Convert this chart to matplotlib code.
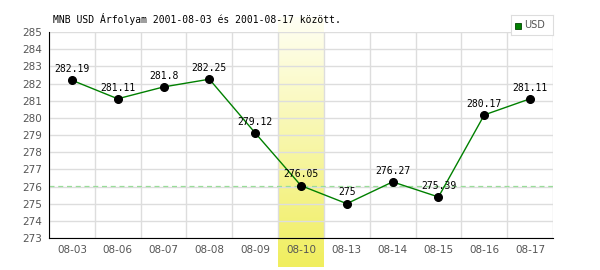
import numpy as np
import matplotlib.pyplot as plt
from matplotlib.colors import LinearSegmentedColormap

# MNB USD árfolyam, 2001-08-03 .. 2001-08-17
datumok = ["08-03", "08-06", "08-07", "08-08", "08-09", "08-10",
           "08-13", "08-14", "08-15", "08-16", "08-17"]
arfolyam = [282.19, 281.11, 281.8, 282.25, 279.12, 276.05,
            275.0, 276.27, 275.39, 280.17, 281.11]
kiemelt = "08-10"
y_ticks = list(range(273, 286))

fig = plt.figure(figsize=(6, 2.7), dpi=100)
ax = fig.add_axes([49 / 600, 32 / 270, 504 / 600, 206 / 270])

x = np.arange(len(datumok))
ax.set_xlim(-0.5, len(datumok) - 0.5)
ax.set_ylim(273, 285)

# rács
ax.set_yticks(y_ticks)
ax.set_xticks(x)
ax.set_xticks(np.arange(len(datumok) + 1) - 0.5, minor=True)
ax.grid(True, which="major", axis="y", color="#dddddd", lw=1, zorder=0)
ax.grid(True, which="minor", axis="x", color="#dddddd", lw=1, zorder=0)
ax.tick_params(which="both", length=0)
ax.set_xticklabels(datumok, fontsize=7.5, color="#555555", family="DejaVu Sans")
ax.set_yticklabels([str(t) for t in y_ticks], fontsize=7.5, color="#555555",
                   family="DejaVu Sans")
ax.tick_params(axis="x", pad=5)
ax.tick_params(axis="y", pad=5)

for s in ["top", "right"]:
    ax.spines[s].set_visible(False)
ax.spines["left"].set_zorder(5)
ax.spines["bottom"].set_zorder(5)

# kiemelt nap sávja (színátmenet)
k = datumok.index(kiemelt)
cmap = LinearSegmentedColormap.from_list("sarga", ["#fffff4", "#f0ee5e"])
grad = np.linspace(0, 1, 256).reshape(-1, 1)
ax.imshow(grad, cmap=cmap, aspect="auto", origin="upper",
          extent=(k - 0.5, k + 0.5, 271.3, 285.85), zorder=1, clip_on=False)

# vízszintes szaggatott vonal a kiemelt értéknél
ax.axhline(arfolyam[k], color="#99dd99", lw=0.9, ls=(0, (4, 3)), zorder=2)

ax.plot(x, arfolyam, color="#008000", lw=1, zorder=3)
ax.plot(x, arfolyam, "o", color="black", ms=5.5, zorder=4)

for xi, v in zip(x, arfolyam):
    ax.annotate(f"{v:g}", (xi, v), xytext=(0, 4.5), textcoords="offset points",
                ha="center", va="bottom", fontsize=7, family="DejaVu Sans Mono",
                color="black", zorder=6)

fig.text(53 / 600, 1 - 19 / 270, "MNB USD Árfolyam 2001-08-03 és 2001-08-17 között.",
         fontsize=7, family="DejaVu Sans Mono", va="center", ha="left")

# jelmagyarázat
lax = fig.add_axes([511 / 600, 1 - 35 / 270, 42 / 600, 20 / 270])
lax.set_xlim(0, 42)
lax.set_ylim(0, 20)
lax.set_xticks([])
lax.set_yticks([])
for s in lax.spines.values():
    s.set_color("#dddddd")
lax.add_patch(plt.Rectangle((4, 6.5), 6, 6, facecolor="#008000", edgecolor="#004400", lw=0.6))
lax.text(13, 9.5, "USD", fontsize=7, color="#555555", va="center", ha="left")

fig.savefig("out.png", dpi=100)
